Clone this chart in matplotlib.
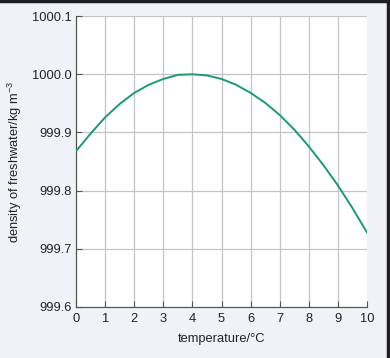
import matplotlib
matplotlib.use("Agg")
import matplotlib.pyplot as plt
from matplotlib.lines import Line2D

# temperature (°C) and density of freshwater (kg m^-3)
temperature = [0, 0.5, 1, 1.5, 2, 2.5, 3, 3.5, 4, 4.5, 5,
               5.5, 6, 6.5, 7, 7.5, 8, 8.5, 9, 9.5, 10]
density = [999.868, 999.898, 999.926, 999.949, 999.968, 999.982, 999.992,
           999.999, 1000.000, 999.998, 999.992, 999.982, 999.968, 999.951,
           999.930, 999.905, 999.876, 999.844, 999.809, 999.770, 999.728]

x_ticks = [0, 1, 2, 3, 4, 5, 6, 7, 8, 9, 10]
y_ticks = [999.6, 999.7, 999.8, 999.9, 1000.0, 1000.1]
y_tick_labels = ["999.6", "999.7", "999.8", "999.9", "1000.0", "1000.1"]

plt.rcParams['font.family'] = ['Liberation Sans', 'DejaVu Sans']
plt.rcParams['mathtext.default'] = 'regular'

fig = plt.figure(figsize=(3.9, 3.58), dpi=100, facecolor='#eff3f8')
ax = fig.add_axes([0.195, 0.1425, 0.746, 0.8125])
ax.set_facecolor('white')

ax.plot(temperature, density, color='#1a9b6c', lw=1.4, zorder=3)

ax.set_xlim(0, 10)
ax.set_ylim(999.6, 1000.1)
ax.set_xticks(x_ticks)
ax.set_yticks(y_ticks)
ax.set_yticklabels(y_tick_labels)

# grid lines (none on the right edge)
for x in x_ticks[1:-1]:
    ax.axvline(x, color='#c4c4c4', lw=0.9, zorder=1)
for y in y_ticks[1:]:
    ax.axhline(y, color='#c4c4c4', lw=0.9, zorder=1)

for side in ['top', 'right']:
    ax.spines[side].set_visible(False)
for side in ['left', 'bottom']:
    ax.spines[side].set_color('#555555')
    ax.spines[side].set_linewidth(0.9)

ax.tick_params(axis='both', direction='in', length=4, width=0.8,
               color='#555555', labelsize=9.3, labelcolor='#222222', pad=3)
ax.tick_params(axis='x', pad=4)

ax.set_xlabel('temperature/°C', fontsize=9.3, color='#222222', labelpad=6)
ax.set_ylabel('density of freshwater/kg m$^{-3}$', fontsize=9.3,
              color='#222222', labelpad=6)

# dark frame on top and right edges of the image
fig.add_artist(Line2D([0, 1], [0.997, 0.997], transform=fig.transFigure,
                      color='#1e1e24', lw=2.5))
fig.add_artist(Line2D([0.996, 0.996], [0, 1], transform=fig.transFigure,
                      color='#1e1e24', lw=2.5))

fig.savefig('out.png', dpi=100, facecolor=fig.get_facecolor())
